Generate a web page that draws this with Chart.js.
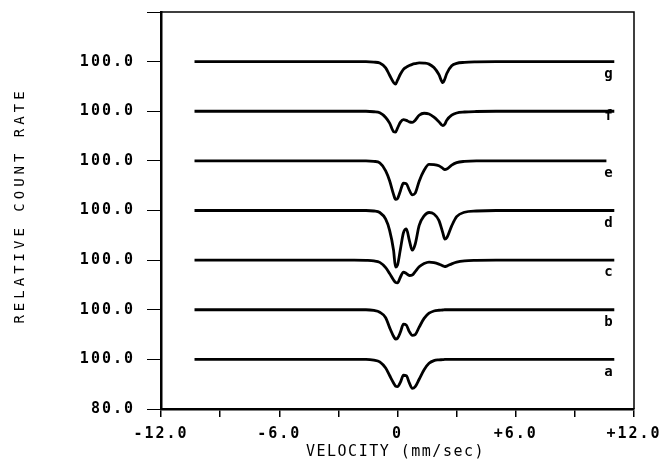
<!DOCTYPE html>
<html>
<head>
<meta charset="utf-8">
<script src="https://cdn.jsdelivr.net/npm/chart.js@4.4.0/dist/chart.umd.min.js"></script>
<style>
  html, body { margin: 0; padding: 0; background: #fff; }
  canvas { display: block; }
</style>
</head>
<body>
<canvas id="spectra" width="670" height="472"></canvas>
<script>
// velocity grid (mm/sec), shared by all seven spectra
const velocity = [-10.3, -9.0, -7.5, -6.0, -4.5, -3.0, -2.2, -1.6, -1.2, -0.9,
    -0.6, -0.4, -0.2, -0.1, 0.0, 0.15, 0.3, 0.45, 0.6, 0.75,
    0.9, 1.1, 1.35, 1.6, 1.85, 2.1, 2.3, 2.4, 2.5, 2.75,
    3.0, 3.4, 4.0, 5.0, 6.5, 8.0, 9.5, 10.6, 11.0];

// relative count rate (baseline 100)
const traceA = [100, 100, 100, 100, 100, 100, 100, 100, 99.7, 99.0,
    96.5, 93.5, 90.5, 89.2, 89.0, 90.8, 93.6, 93.4, 90.5, 88.3,
    89.0, 92.0, 95.8, 98.4, 99.5, 99.8, 99.9, 100, 100, 100,
    100, 100, 100, 100, 100, 100, 100, 100, 100];
const traceB = [100, 100, 100, 100, 100, 100, 100, 100, 99.7, 99.0,
    96.8, 92.8, 89.3, 88.2, 88.5, 91.0, 94.2, 93.8, 91.2, 89.7,
    90.0, 93.0, 96.5, 98.6, 99.5, 99.8, 99.9, 100, 100, 100,
    100, 100, 100, 100, 100, 100, 100, 100, 100];
const traceC = [100, 100, 100, 100, 100, 100, 100, 99.9, 99.7, 99.1,
    97.0, 94.6, 92.0, 91.0, 90.8, 93.2, 95.2, 94.6, 93.8, 94.0,
    95.4, 97.3, 98.6, 99.2, 99.0, 98.4, 97.7, 97.4, 97.6, 98.5,
    99.2, 99.7, 99.9, 100, 100, 100, 100, 100, 100];
const traceD = [100, 100, 100, 100, 100, 100, 100, 100, 99.8, 99.2,
    96.5, 92.0, 84.0, 77.2, 78.0, 84.5, 91.0, 92.6, 88.0, 84.0,
    86.5, 94.0, 97.8, 99.2, 98.6, 96.0, 91.0, 88.5, 89.0, 93.8,
    97.5, 99.3, 99.8, 100, 100, 100, 100, 100, 100];
const traceE = [100, 100, 100, 100, 100, 100, 100, 100, 99.8, 99.2,
    96.0, 92.0, 86.5, 84.5, 84.8, 88.0, 91.0, 90.8, 88.2, 86.3,
    87.0, 91.8, 96.2, 98.6, 98.5, 98.0, 97.0, 96.5, 96.7, 98.3,
    99.3, 99.8, 100, 100, 100, 100, 100, 100, null];
const traceF = [100, 100, 100, 100, 100, 100, 100, 100, 99.8, 99.4,
    97.5, 95.2, 91.8, 91.6, 93.2, 95.6, 96.6, 96.3, 95.7, 95.5,
    96.4, 98.4, 99.2, 98.9, 97.6, 95.8, 94.2, 94.8, 96.4, 98.4,
    99.3, 99.7, 99.9, 100, 100, 100, 100, 100, 100];
const traceG = [100, 100, 100, 100, 100, 100, 100, 100, 99.8, 99.4,
    97.5, 94.5, 91.6, 90.9, 92.5, 95.0, 96.9, 97.8, 98.4, 98.9,
    99.2, 99.5, 99.4, 99.0, 97.6, 94.8, 91.5, 93.0, 95.2, 98.3,
    99.3, 99.7, 99.9, 100, 100, 100, 100, 100, 100];

const traceNames = ['a', 'b', 'c', 'd', 'e', 'f', 'g'];
const traceOffsets = [0, 20, 40, 60, 80, 100, 120];
const yTicks = [80, 100, 120, 140, 160, 180, 200, 220, 240];
const xTicks = [-12, -9, -6, -3, 0, 3, 6, 9, 12];
const xTickLabels = {'-12': '-12.0', '-6': '-6.0', '0': '0', '6': '+6.0', '12': '+12.0'};

const traces = [traceA, traceB, traceC, traceD, traceE, traceF, traceG];
const mono = "'DejaVu Sans Mono', monospace";

const datasets = traces.map(function(vals, i) {
    return {
        label: traceNames[i],
        data: velocity.map(function(v, j) {
            return { x: v, y: vals[j] === null ? null : vals[j] + traceOffsets[i] };
        }),
        borderColor: '#000',
        borderWidth: 2.8,
        pointRadius: 0,
        fill: false,
        cubicInterpolationMode: 'monotone',
        spanGaps: false
    };
});

// frame, trace letters and axis titles
const decorations = {
    id: 'decorations',
    beforeUpdate(chart) { chart.ctx.letterSpacing = '2px'; },
    beforeDraw(chart) { chart.ctx.letterSpacing = '2px'; },
    afterDraw(chart) {
        const ctx = chart.ctx;
        const a = chart.chartArea;
        const x = chart.scales.x;
        const y = chart.scales.y;
        ctx.save();
        ctx.strokeStyle = '#000';
        ctx.lineWidth = 1.5;
        ctx.beginPath();
        ctx.moveTo(a.left, a.top);
        ctx.lineTo(a.right, a.top);
        ctx.lineTo(a.right, a.bottom);
        ctx.stroke();

        ctx.fillStyle = '#000';
        ctx.letterSpacing = '0px';
        ctx.font = 'bold 14px ' + mono;
        ctx.textAlign = 'center';
        ctx.textBaseline = 'alphabetic';
        traceNames.forEach(function(name, i) {
            const drop = name === 'f' ? 3.5 : 6.5;
            ctx.fillText(name, x.getPixelForValue(10.7), y.getPixelForValue(100 + traceOffsets[i] - drop));
        });

        ctx.textBaseline = 'middle';
        ctx.font = '15px ' + mono;
        ctx.letterSpacing = '1.5px';
        ctx.fillText('VELOCITY (mm/sec)', (a.left + a.right) / 2 - 2, 452);

        ctx.translate(20, (a.top + a.bottom) / 2 - 5);
        ctx.rotate(-Math.PI / 2);
        ctx.font = '14px ' + mono;
        ctx.letterSpacing = '4px';
        ctx.fillText('RELATIVE COUNT RATE', 0, 0);
        ctx.restore();
    }
};

new Chart(document.getElementById('spectra'), {
    type: 'line',
    data: { datasets: datasets },
    options: {
        responsive: false,
        animation: false,
        devicePixelRatio: 1,
        layout: { padding: { top: 12, right: 36, bottom: 0, left: 0 } },
        plugins: { legend: { display: false }, tooltip: { enabled: false } },
        scales: {
            x: {
                type: 'linear',
                min: -12,
                max: 12,
                afterFit: function(scale) {
                    scale.height = 63;
                    scale.paddingLeft = 0;
                    scale.paddingRight = 0;
                },
                afterBuildTicks: function(scale) {
                    scale.ticks = xTicks.map(function(v) { return { value: v }; });
                },
                border: { display: true, color: '#000', width: 2.5 },
                grid: { drawOnChartArea: false, drawTicks: true, tickLength: 8, color: '#000', lineWidth: 1.5 },
                ticks: {
                    autoSkip: false,
                    maxRotation: 0,
                    padding: 8,
                    color: '#000',
                    font: { family: mono, size: 15, weight: 'bold' },
                    callback: function(value) {
                        const key = String(value);
                        return key in xTickLabels ? xTickLabels[key] : '';
                    }
                }
            },
            y: {
                type: 'linear',
                min: 80,
                max: 240,
                afterFit: function(scale) {
                    scale.width = 161;
                    scale.paddingTop = 0;
                    scale.paddingBottom = 0;
                },
                afterBuildTicks: function(scale) {
                    scale.ticks = yTicks.map(function(v) { return { value: v }; });
                },
                border: { display: true, color: '#000', width: 2.5 },
                grid: { drawOnChartArea: false, drawTicks: true, tickLength: 14, color: '#000', lineWidth: 1 },
                ticks: {
                    padding: 12,
                    color: '#000',
                    font: { family: mono, size: 15, weight: 'bold' },
                    callback: function(value) {
                        if (value === 80) return '80.0';
                        if (value === 240) return '';
                        return '100.0';
                    }
                }
            }
        }
    },
    plugins: [decorations]
});
</script>
</body>
</html>
